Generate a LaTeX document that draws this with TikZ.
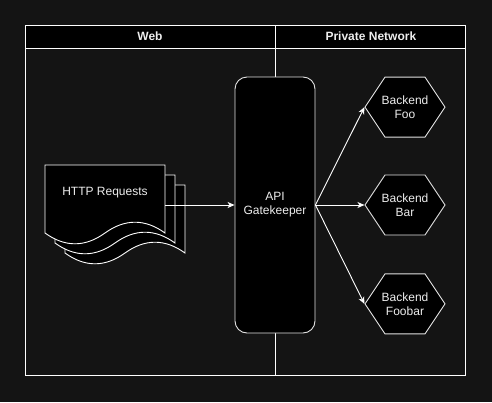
\documentclass[tikz,border=0pt]{standalone}
\usepackage{fontspec}
\setmainfont{Liberation Sans}
\usepackage{tikz}
\usetikzlibrary{arrows.meta,positioning,shapes.symbols,calc}
\definecolor{canvas}{HTML}{141414}
\definecolor{ink}{HTML}{EDEDED}
\definecolor{frame}{HTML}{FFFFFF}
\definecolor{edge}{HTML}{E2E2E2}
\definecolor{boxfill}{HTML}{000000}

\begin{document}
\begin{tikzpicture}[x=1pt, y=-1pt,
  every node/.style={font=\fontsize{12}{14}\selectfont, text=ink},
  lane/.style={rectangle, draw=frame, line width=0.9pt, minimum width=#1, minimum height=350pt, inner sep=0pt},
  header/.style={rectangle, draw=frame, line width=0.9pt, fill=boxfill, minimum width=#1, minimum height=23pt, inner sep=0pt, font=\fontsize{12}{14}\selectfont\bfseries},
  gate/.style={rectangle, draw=edge, line width=0.9pt, fill=boxfill, rounded corners=12pt, minimum width=80pt, minimum height=256pt, align=center},
  backend/.style={signal, signal to=west and east, signal pointer angle=112.6, draw=edge, line width=0.9pt, fill=boxfill, text width=50pt, minimum height=60pt, inner xsep=-5pt, inner ysep=0pt, align=center},
  doc/.style={draw=frame, line width=0.9pt, fill=boxfill},
  arrow/.style={-{Stealth[length=7pt, width=6pt, inset=2pt]}, draw=frame, line width=0.9pt}
]
\fill[canvas] (0,0) rectangle (492,402);
\useasboundingbox (0,0) rectangle (492,402);

% swimlanes
\node[lane=250pt] (web) at (150,200) {};
\node[lane=190pt, right=0pt of web] (private) {};
\node[header=250pt, below=0pt of web.north] (webhead) {Web};
\node[header=190pt, below=0pt of private.north] (privatehead) {Private Network};

% stacked requests
\foreach \d in {20,10,0}
  \draw[doc] (45+\d,165+\d) -- (165+\d,165+\d) -- (165+\d,233+\d)
    .. controls (145+\d,218.6+\d) and (125+\d,218.6+\d) .. (105+\d,233+\d)
    .. controls (85+\d,247.4+\d) and (65+\d,247.4+\d) .. (45+\d,233+\d) -- cycle;
\node (requests) at (105,193) {HTTP Requests};
\coordinate (docout) at (165,205);

\node[gate] (gatekeeper) at (275,205) {API\\Gatekeeper};

\node[backend] (bar) at (405,205) {Backend\\Bar};
\node[backend, above=37pt of bar] (foo) {Backend\\Foo};
\node[backend, below=38pt of bar] (foobar) {Backend\\Foobar};

\draw[arrow] (docout) -- (gatekeeper);
\draw[arrow] (gatekeeper.east) -- (foo.west);
\draw[arrow] (gatekeeper.east) -- (bar.west);
\draw[arrow] (gatekeeper.east) -- (foobar.west);
\end{tikzpicture}
\end{document}
